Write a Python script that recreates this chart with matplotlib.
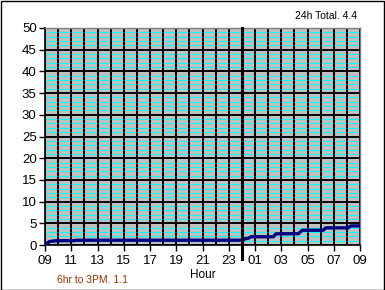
import matplotlib
matplotlib.use("Agg")
import matplotlib.pyplot as plt
from matplotlib.patches import Rectangle

plt.rcParams['font.family'] = ['Liberation Sans', 'DejaVu Sans']

# hours elapsed since 09:00
hours = [0.0, 0.15, 0.35, 0.7, 1.2, 2.2, 2.4, 15.1, 15.25, 15.45, 15.7, 17.4, 17.6,
         19.3, 19.6, 21.2, 21.4, 23.1, 23.3, 24.0]
rain = [0.0, 0.4, 0.8, 0.95, 1.0, 1.0, 1.1, 1.1, 1.5, 1.5, 1.9, 1.9, 2.6,
        2.6, 3.4, 3.4, 3.95, 3.95, 4.4, 4.4]

tick_hours = list(range(0, 25, 2))
tick_labels = ["09", "11", "13", "15", "17", "19", "21", "23", "01", "03", "05", "07", "09"]
y_ticks = list(range(0, 51, 5))
total_text = "24h Total. 4.4"
partial_text = "6hr to 3PM. 1.1"
midnight = 15

fig = plt.figure(figsize=(3.85, 2.9), dpi=100)
fig.patch.set_facecolor("white")
ax = fig.add_axes([45/385, 45/290, 315/385, 217/290])
ax.set_facecolor("#C0C0C0")
ax.set_xlim(0, 24)
ax.set_ylim(0, 50)

for v in range(0, 51):
    if v % 5:
        ax.axhline(v, color="#00FFFF", lw=0.8, zorder=1)
for v in y_ticks:
    ax.axhline(v, color="black", lw=1.4, zorder=2)
for h in range(0, 25):
    ax.axvline(h, color="black", lw=1.4, zorder=2)

ax.plot(hours, rain, color="#000080", lw=2.4, zorder=3, solid_capstyle="butt")

ax.axvline(midnight, ymin=-0.065, ymax=1, color="black", lw=2.2, zorder=4, clip_on=False)

ax.set_xticks(tick_hours)
ax.set_xticklabels(tick_labels)
ax.set_yticks(y_ticks)
ax.tick_params(axis="both", direction="out", length=4, width=1, labelsize=9.5, colors="black", pad=3)
ax.tick_params(axis="y", pad=2)

for s in ["top", "right"]:
    ax.spines[s].set_color("#808080")
    ax.spines[s].set_linewidth(1)
for s in ["left", "bottom"]:
    ax.spines[s].set_color("black")
    ax.spines[s].set_linewidth(1.2)

ax.set_xlabel("Hour", fontsize=8.5, labelpad=2)

fig.text(357/385, 1 - 16/290, total_text, ha="right", va="center", fontsize=7.5)
fig.text(57/385, 1 - 280/290, partial_text, ha="left", va="center", fontsize=7.5, color="#993300")

fig.patches.append(Rectangle((0.5/385, 0.5/290), 1 - 1.5/385, 1 - 1.5/290, transform=fig.transFigure,
                             fill=False, edgecolor="black", lw=1.0))

fig.savefig("out.png", dpi=100)
